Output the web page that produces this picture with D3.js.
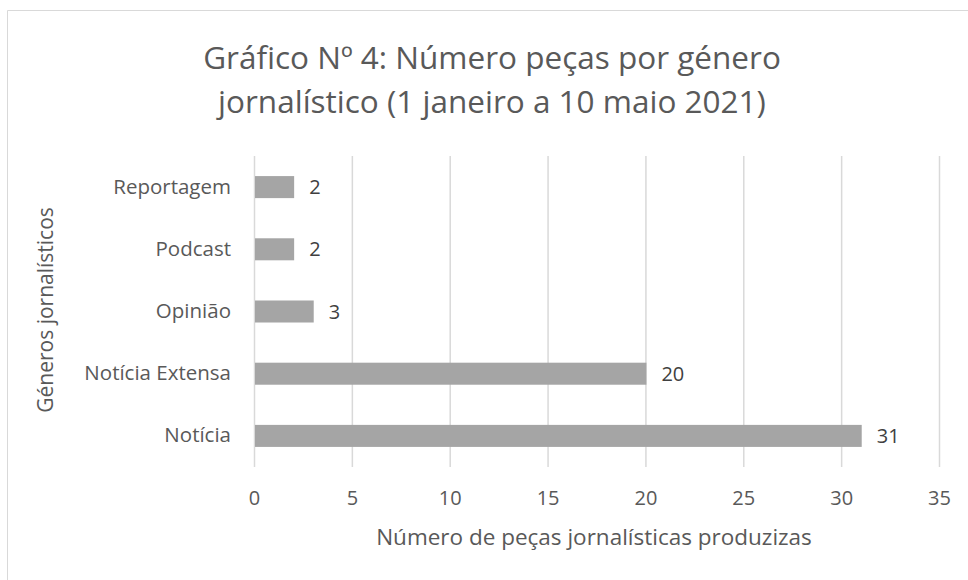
<!DOCTYPE html>
<html>
<head>
<meta charset="utf-8">
<script src="https://cdn.jsdelivr.net/npm/d3@7"></script>
<style>
  body { margin: 0; background: #fff; }
  text { font-family: "Open Sans", sans-serif; }
</style>
</head>
<body>
<div class="chart"></div>
<script>
// data
var generos = ["Reportagem", "Podcast", "Opinião", "Notícia Extensa", "Notícia"];
var pecas = [2, 2, 3, 20, 31];
var xTicks = [0, 5, 10, 15, 20, 25, 30, 35];
var titleLines = ["Gráfico Nº 4: Número peças por género", "jornalístico (1 janeiro a 10 maio 2021)"];

var W = 968, H = 580;
var margin = {top: 156, right: 29, bottom: 113, left: 254};
var width = W - margin.left - margin.right;
var height = H - margin.top - margin.bottom;

var rows = generos.map(function(g, i) {
    return {name: g, value: pecas[i]};
});

var svg = d3.select(".chart")
  .append("svg")
    .attr("width", W)
    .attr("height", H);

// chart frame (only top and left edges visible in the crop)
svg.append("path")
    .attr("d", "M7.5," + H + "V10.5H" + W)
    .attr("fill", "none")
    .attr("stroke", "#d9d9d9");

var g = svg.append("g")
    .attr("transform", "translate(" + margin.left + "," + margin.top + ")");

var x = d3.scaleLinear().domain([0, 35]).range([0, width]);
var y = d3.scaleBand()
    .domain(generos)
    .range([0, height])
    .paddingInner(0.646)
    .paddingOuter(0.323);

// vertical gridlines
g.selectAll(".grid")
    .data(xTicks)
    .enter()
    .append("line")
    .attr("class", "grid")
    .attr("x1", function(d) { return x(d) + 0.5; })
    .attr("x2", function(d) { return x(d) + 0.5; })
    .attr("y1", 0)
    .attr("y2", height)
    .attr("stroke", "#d9d9d9")
    .attr("stroke-width", 1.5);

g.selectAll(".bar")
    .data(rows)
    .enter()
    .append("rect")
    .attr("class", "bar")
    .attr("x", x(0) + 1)
    .attr("y", function(d) { return y(d.name); })
    .attr("width", function(d) { return x(d.value) - x(0); })
    .attr("height", y.bandwidth())
    .attr("fill", "#a5a5a5");

g.selectAll(".val")
    .data(rows)
    .enter()
    .append("text")
    .attr("class", "val")
    .attr("x", function(d) { return x(d.value) + 16; })
    .attr("y", function(d) { return y(d.name) + y.bandwidth() / 2; })
    .attr("dy", "0.35em")
    .attr("fill", "#404040")
    .style("font-size", "20px")
    .text(function(d) { return d.value; });

// x axis: labels only
var xAxis = g.append("g")
    .attr("transform", "translate(0," + height + ")")
    .call(d3.axisBottom(x).tickValues(xTicks).tickSize(0).tickPadding(24));
xAxis.select(".domain").remove();
xAxis.selectAll("text")
    .attr("fill", "#595959")
    .style("font-size", "20px")
    .style("font-family", "Open Sans, sans-serif");

// y axis: labels only
var yAxis = g.append("g")
    .call(d3.axisLeft(y).tickSize(0).tickPadding(23));
yAxis.select(".domain").remove();
yAxis.selectAll("text")
    .attr("fill", "#595959")
    .style("font-size", "20.5px")
    .style("font-family", "Open Sans, sans-serif");

// title
svg.append("text")
    .attr("x", 492)
    .attr("y", 69)
    .attr("text-anchor", "middle")
    .attr("fill", "#595959")
    .style("font-size", "31.5px")
    .selectAll("tspan")
    .data(titleLines)
    .enter()
    .append("tspan")
    .attr("x", 492)
    .attr("dy", function(d, i) { return i === 0 ? 0 : 43.5; })
    .text(function(d) { return d; });

// axis titles
svg.append("text")
    .attr("x", 594)
    .attr("y", 537)
    .attr("dy", "0.35em")
    .attr("text-anchor", "middle")
    .attr("fill", "#595959")
    .style("font-size", "22.5px")
    .text("Número de peças jornalísticas produzizas");

svg.append("text")
    .attr("transform", "translate(46,310) rotate(-90)")
    .attr("dy", "0.35em")
    .attr("text-anchor", "middle")
    .attr("fill", "#595959")
    .style("font-size", "21px")
    .text("Géneros jornalísticos");
</script>
</body>
</html>
